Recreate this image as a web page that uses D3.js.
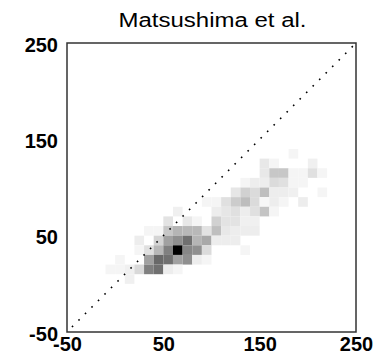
<!DOCTYPE html>
<html>
<head>
<meta charset="utf-8">
<script src="https://cdn.jsdelivr.net/npm/d3@7"></script>
<style>
  body { margin: 0; background: #fff; }
  svg { display: block; }
  text { font-family: "Liberation Sans", Arial, sans-serif; fill: #000; }
</style>
</head>
<body>
<svg id="chart" width="385" height="361"></svg>
<script>
// bin lower-left corners (10 x 10 bins) and their relative density (0..100)
var cellX = [180,
  150,160,200,
  150,160,170,180,190,200,210,
  130,140,150,160,170,180,190,
  120,130,140,150,160,170,180,210,
  90,100,110,120,130,140,150,160,170,190,
  60,100,110,120,130,140,150,160,
  50,70,80,100,110,120,130,140,
  30,40,50,60,70,80,90,100,110,120,130,140,
  20,40,50,60,70,80,90,100,110,120,
  20,30,40,50,60,70,80,90,130,
  0,30,40,50,60,70,80,90,
  -10,0,10,20,30,40,50,60,
  10];
var cellY = [130,
  120,120,120,
  110,110,110,110,110,110,110,
  100,100,100,100,100,100,100,
  90,90,90,90,90,90,90,90,
  80,80,80,80,80,80,80,80,80,80,
  70,70,70,70,70,70,70,70,
  60,60,60,60,60,60,60,60,
  50,50,50,50,50,50,50,50,50,50,50,50,
  40,40,40,40,40,40,40,40,40,40,
  30,30,30,30,30,30,30,30,30,
  20,20,20,20,20,20,20,20,
  10,10,10,10,10,10,10,10,
  0];
var cellValue = [4,
  9,4,6,
  9,22,22,4,4,12,4,
  4,7,7,14,12,4,4,
  10,18,14,25,7,7,6,4,
  4,4,12,20,26,14,3,7,4,7,
  6,7,10,12,7,12,23,4,
  11,9,4,18,11,11,6,6,
  4,4,22,29,28,28,11,25,9,7,7,7,
  7,17,37,44,56,29,34,7,7,7,
  4,12,28,50,100,47,44,14,4,
  4,37,59,56,37,44,7,4,
  4,4,6,15,50,56,7,4,
  6];
var binSize = 10;
var axisDomain = [-50, 250];
var tickValues = [-50, 50, 150, 250];
var title = "Matsushima et al.";

var svg = d3.select("#chart");
var plotL = 67, plotR = 356, plotT = 43, plotB = 332;

var x = d3.scaleLinear().domain(axisDomain).range([plotL, plotR]);
var y = d3.scaleLinear().domain(axisDomain).range([plotB, plotT]);
var gray = d3.scaleLinear().domain([0, 100]).range(["#ffffff", "#000000"]);

var cells = d3.range(cellX.length).map(function (i) {
    return {x: cellX[i], y: cellY[i], v: cellValue[i]};
});

svg.append("g").selectAll("rect")
    .data(cells)
  .enter().append("rect")
    .attr("x", function (d) { return x(d.x); })
    .attr("y", function (d) { return y(d.y + binSize); })
    .attr("width", function (d) { return x(d.x + binSize) - x(d.x); })
    .attr("height", function (d) { return y(d.y) - y(d.y + binSize); })
    .attr("fill", function (d) { return gray(d.v); });

// y = x reference
svg.append("line")
    .attr("x1", x(axisDomain[0])).attr("y1", y(axisDomain[0]))
    .attr("x2", x(axisDomain[1])).attr("y2", y(axisDomain[1]))
    .attr("stroke", "#000")
    .attr("stroke-width", 1.6)
    .attr("stroke-dasharray", "1.6,7.6")
    .attr("stroke-dashoffset", -7);

// frame
svg.append("rect")
    .attr("x", plotL).attr("y", plotT)
    .attr("width", plotR - plotL).attr("height", plotB - plotT)
    .attr("fill", "none")
    .attr("stroke", "#333")
    .attr("stroke-width", 1.5);

// tick labels (plain hyphen for negatives, like the reference)
var fmt = function (d) { return String(d); };

var xAxis = d3.axisBottom(x).tickValues(tickValues).tickFormat(fmt).tickSize(0).tickPadding(5);
var gx = svg.append("g").attr("transform", "translate(0," + plotB + ")").call(xAxis);
gx.select(".domain").remove();
gx.selectAll("text")
    .attr("dy", "0.71em")
    .style("font-family", "'Liberation Sans', Arial, sans-serif")
    .style("font-size", "20px")
    .style("font-weight", "bold")
    .attr("fill", "#000");

var yAxis = d3.axisLeft(y).tickValues(tickValues).tickFormat(fmt).tickSize(0).tickPadding(9);
var gy = svg.append("g").attr("transform", "translate(" + plotL + ",0)").call(yAxis);
gy.select(".domain").remove();
gy.selectAll("text")
    .attr("dy", "0.4em")
    .style("font-family", "'Liberation Sans', Arial, sans-serif")
    .style("font-size", "20px")
    .style("font-weight", "bold")
    .attr("fill", "#000");

svg.append("text")
    .attr("x", (plotL + plotR) / 2 + 1)
    .attr("y", 27)
    .attr("text-anchor", "middle")
    .attr("font-size", "20px")
    .attr("textLength", 188)
    .attr("lengthAdjust", "spacingAndGlyphs")
    .text(title);
</script>
</body>
</html>
